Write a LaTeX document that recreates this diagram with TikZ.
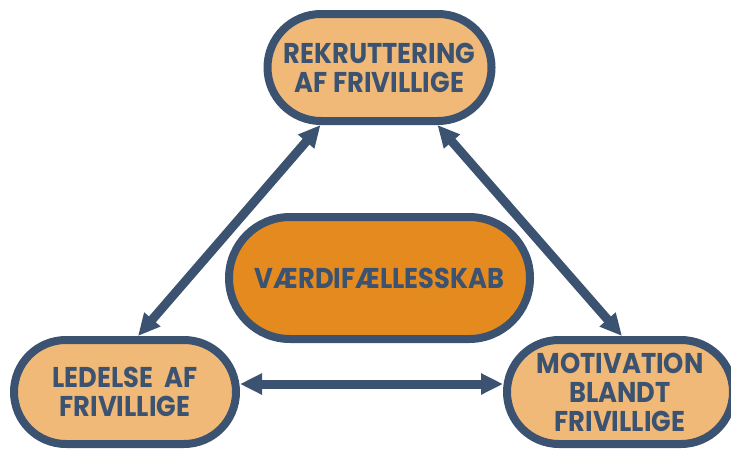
\documentclass[tikz,border=0pt]{standalone}
\usepackage{fontspec}
\setmainfont{Poppins}[FakeStretch=0.9]
\usetikzlibrary{shapes.misc,positioning,arrows.meta}

\definecolor{rim}{HTML}{3B5371}
\definecolor{sand}{HTML}{F0B978}
\definecolor{amber}{HTML}{E48A1E}

\tikzset{
  pill/.style={rounded rectangle, draw=rim, line width=4pt, fill=sand, text=rim,
    align=center, inner sep=0pt, font=\bfseries\fontsize{14.3}{14.5}\selectfont},
  twoway/.style={{Triangle[length=11pt,width=10pt]}-{Triangle[length=11pt,width=10pt]},
    draw=rim, line width=4.5pt}
}

\begin{document}
\begin{tikzpicture}[x=0.5pt, y=-0.5pt]
    \useasboundingbox (0,0) rectangle (731,450);

    \node [pill, fill=amber, minimum width=150.5pt, minimum height=61pt] (vaer) at (379.5,278) {VÆRDIFÆLLESSKAB};
    \node [pill, minimum width=112pt, minimum height=53.5pt, above=44pt of vaer] (rek) {REKRUTTERING\\AF FRIVILLIGE};
    \node [pill, minimum width=111pt, minimum height=52pt] (led) at (125,392) {LEDELSE\ \ AF\\FRIVILLIGE};
    \node [pill, minimum width=113pt, minimum height=52pt, right=131.5pt of led] (mot) {MOTIVATION\\BLANDT\\FRIVILLIGE};

    \draw [twoway] ([xshift=-29.5pt]rek.south) -- ([xshift=6.5pt]led.north);
    \draw [twoway] ([xshift=29pt]rek.south) -- ([xshift=1pt]mot.north);
    \draw [twoway] ([yshift=4pt]led.east) -- ([yshift=4pt]mot.west);

\end{tikzpicture}
\end{document}
